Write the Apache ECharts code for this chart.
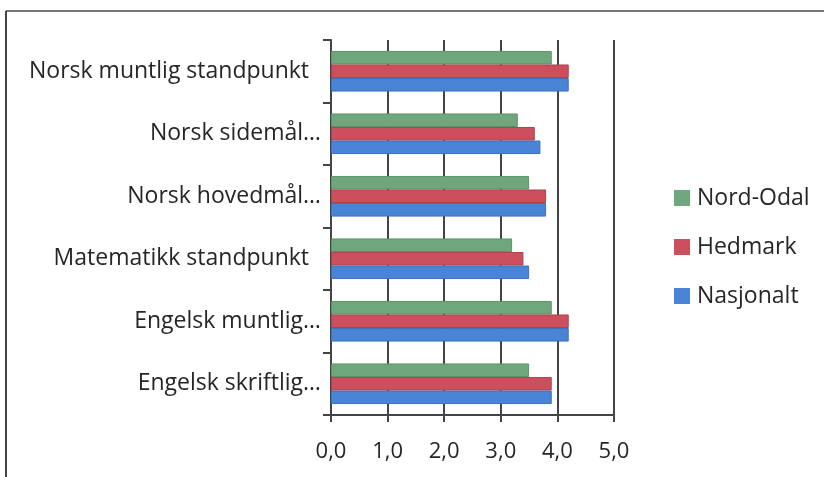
<!DOCTYPE html>
<html>
<head>
<meta charset="utf-8">
<script src="https://cdn.jsdelivr.net/npm/echarts@6/dist/echarts.min.js"></script>
<style>
    html, body { margin: 0; padding: 0; background: #fff; }
    #chart { width: 824px; height: 477px; }
</style>
</head>
<body>
<div id="chart"></div>
<script>
    // categories bottom -> top, as the category axis draws them
    var categories = ['Engelsk skriftlig…', 'Engelsk muntlig…', 'Matematikk standpunkt  ', 'Norsk hovedmål…', 'Norsk sidemål…', 'Norsk muntlig standpunkt  '];
    var nasjonalt = [3.9, 4.2, 3.5, 3.8, 3.7, 4.2];
    var hedmark = [3.9, 4.2, 3.4, 3.8, 3.6, 4.2];
    var nordOdal = [3.5, 3.9, 3.2, 3.5, 3.3, 3.9];
    var legendOrder = ['Nord-Odal', 'Hedmark', 'Nasjonalt'];

    var font = 'Open Sans';
    var chart = echarts.init(document.getElementById('chart'));
    chart.setOption({
        animation: false,
        textStyle: { fontFamily: font },
        grid: { left: 331, right: 210, top: 40, bottom: 62 },
        legend: {
            data: legendOrder,
            orient: 'vertical',
            left: 669,
            top: 181,
            itemWidth: 16,
            itemHeight: 16,
            itemGap: 25,
            icon: 'rect',
            itemStyle: { borderWidth: 0 },
            textStyle: { fontSize: 23, color: '#262626', fontFamily: font, lineHeight: 24, padding: [0, 0, 0, 2] }
        },
        xAxis: {
            type: 'value',
            min: 0,
            max: 5,
            interval: 1,
            axisLine: { show: true, lineStyle: { color: '#444', width: 2 } },
            axisTick: { show: true, length: 7, lineStyle: { color: '#444', width: 2 } },
            splitLine: { show: true, lineStyle: { color: '#444', width: 2 } },
            axisLabel: {
                margin: 26,
                fontSize: 22,
                color: '#262626',
                formatter: function (v) { return v.toFixed(1).replace('.', ','); }
            }
        },
        yAxis: {
            type: 'category',
            data: categories,
            axisLine: { show: true, lineStyle: { color: '#444', width: 2 } },
            axisTick: { show: true, length: 8, lineStyle: { color: '#444', width: 2 } },
            axisLabel: { margin: 10, fontSize: 23, color: '#262626' }
        },
        series: [
            { name: 'Nord-Odal', type: 'bar', data: nordOdal, barGap: '0%', barCategoryGap: '35%',
              itemStyle: { color: '#6ea77c', borderColor: '#5c946a', borderWidth: 1 } },
            { name: 'Hedmark', type: 'bar', data: hedmark, barGap: '0%', barCategoryGap: '35%',
              itemStyle: { color: '#cc4f5e', borderColor: '#b2404e', borderWidth: 1 } },
            { name: 'Nasjonalt', type: 'bar', data: nasjonalt, barGap: '0%', barCategoryGap: '35%',
              itemStyle: { color: '#4a84d6', borderColor: '#3d70bd', borderWidth: 1 } }
        ],
        graphic: [
            { type: 'line', shape: { x1: 6, y1: 11, x2: 824, y2: 11 }, style: { stroke: '#777', lineWidth: 2 } },
            { type: 'line', shape: { x1: 6, y1: 11, x2: 6, y2: 477 }, style: { stroke: '#444', lineWidth: 2 } }
        ]
    });
</script>
</body>
</html>
